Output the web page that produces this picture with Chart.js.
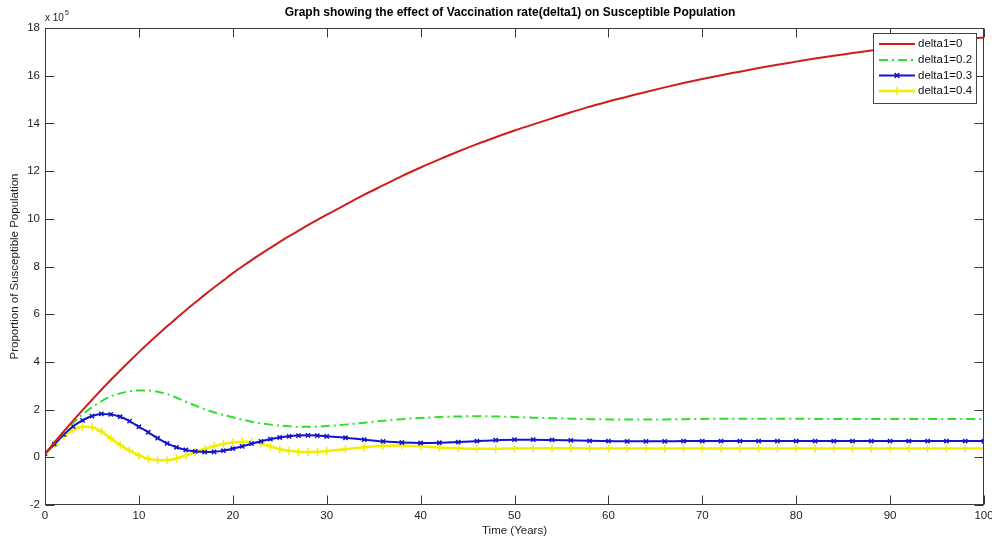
<!DOCTYPE html>
<html>
<head>
<meta charset="utf-8">
<title>Susceptible Population</title>
<script src="https://cdn.jsdelivr.net/npm/chart.js@4.4.1/dist/chart.umd.min.js"></script>
<style>
  html, body { margin: 0; padding: 0; background: #fff; }
</style>
</head>
<body>
<canvas id="myChart" width="992" height="541"></canvas>
<script>
// Time axis (years) - dense for the first 30 years, then every 2 years
const time = [
  0, 1, 2, 3, 4, 5, 6, 7, 8, 9, 10, 11, 12, 13, 14, 15, 16, 17, 18, 19, 20,
  21, 22, 23, 24, 25, 26, 27, 28, 29, 30,
  32, 34, 36, 38, 40, 42, 44, 46, 48, 50, 52, 54, 56, 58, 60, 62, 64, 66, 68, 70,
  72, 74, 76, 78, 80, 82, 84, 86, 88, 90, 92, 94, 96, 98, 100
];

// Susceptible population (x 10^5) for each vaccination rate
const delta0 = [
  0.15, 0.62, 1.09, 1.54, 1.98, 2.41, 2.83, 3.24, 3.64, 4.03, 4.41, 4.78, 5.14, 5.49, 5.83, 6.17, 6.49, 6.81, 7.12, 7.42, 7.72,
  8.0, 8.27, 8.53, 8.78, 9.03, 9.27, 9.5, 9.73, 9.95, 10.17,
  10.59, 11.01, 11.4, 11.79, 12.15, 12.49, 12.82, 13.13, 13.42, 13.7, 13.96, 14.21, 14.47, 14.7, 14.92, 15.12, 15.32, 15.51, 15.69, 15.86,
  16.02, 16.17, 16.32, 16.46, 16.59, 16.72, 16.84, 16.95, 17.06, 17.16, 17.26, 17.35, 17.44, 17.53, 17.6
];
const delta02 = [
  0.15, 0.6, 1.05, 1.45, 1.8, 2.1, 2.35, 2.55, 2.68, 2.77, 2.8, 2.8, 2.75, 2.65, 2.5, 2.33, 2.17, 2.02, 1.89, 1.78, 1.68,
  1.58, 1.49, 1.42, 1.37, 1.33, 1.3, 1.28, 1.28, 1.29, 1.31,
  1.37, 1.45, 1.53, 1.6, 1.65, 1.69, 1.71, 1.72, 1.71, 1.69, 1.66, 1.64, 1.62, 1.6, 1.59, 1.58, 1.58, 1.59, 1.6, 1.61,
  1.62, 1.62, 1.62, 1.62, 1.62, 1.61, 1.61, 1.61, 1.61, 1.61, 1.61, 1.61, 1.61, 1.61, 1.61
];
const delta03 = [
  0.15, 0.55, 0.95, 1.3, 1.55, 1.73, 1.82, 1.8, 1.7, 1.52, 1.28, 1.05, 0.8, 0.58, 0.42, 0.31, 0.25, 0.22, 0.23, 0.28, 0.36,
  0.46, 0.57, 0.67, 0.76, 0.83, 0.88, 0.91, 0.92, 0.91, 0.88,
  0.82, 0.74, 0.67, 0.62, 0.6, 0.61, 0.64, 0.68, 0.72, 0.74, 0.74, 0.73, 0.71, 0.69, 0.68, 0.67, 0.67, 0.67, 0.68, 0.68,
  0.68, 0.68, 0.68, 0.68, 0.68, 0.68, 0.68, 0.68, 0.68, 0.68, 0.68, 0.68, 0.68, 0.68, 0.68
];
const delta04 = [
  0.15, 0.55, 0.9, 1.15, 1.28, 1.26, 1.08, 0.8, 0.52, 0.28, 0.08, -0.06, -0.12, -0.12, -0.05, 0.08, 0.22, 0.35, 0.47, 0.56, 0.62,
  0.65, 0.64, 0.58, 0.45, 0.34, 0.27, 0.23, 0.22, 0.23, 0.26,
  0.34, 0.42, 0.48, 0.49, 0.46, 0.41, 0.38, 0.36, 0.36, 0.37, 0.38, 0.38, 0.38, 0.37, 0.37, 0.37, 0.37, 0.37, 0.37, 0.37,
  0.37, 0.37, 0.37, 0.37, 0.37, 0.37, 0.37, 0.37, 0.37, 0.37, 0.37, 0.37, 0.37, 0.37, 0.37
];

const seriesLabels = ["delta1=0", "delta1=0.2", "delta1=0.3", "delta1=0.4"];
const xTicks = [0, 10, 20, 30, 40, 50, 60, 70, 80, 90, 100];
const yTicks = [-2, 0, 2, 4, 6, 8, 10, 12, 14, 16, 18];

const FONT = "'Liberation Sans', Arial, sans-serif";

const toPoints = (vals) => vals.map((v, i) => ({ x: time[i], y: v }));

// box, inward ticks, title, exponent and legend drawn like a matlab figure
const matlabFrame = {
  id: "matlabFrame",
  afterDatasetsDraw(chart) {
    const { ctx, chartArea: a, scales } = chart;
    const L = Math.round(a.left) + 0.5;
    const R = Math.round(a.right) - 0.5;
    const T = Math.round(a.top) + 0.5;
    const B = Math.round(a.bottom) - 0.5;
    const tl = 9;

    ctx.save();
    ctx.strokeStyle = "#3a3a3a";
    ctx.lineWidth = 1;
    ctx.strokeRect(L, T, R - L, B - T);
    ctx.beginPath();
    xTicks.forEach((v) => {
      const px = Math.round(scales.x.getPixelForValue(v)) + 0.5;
      ctx.moveTo(px, B); ctx.lineTo(px, B - tl);
      ctx.moveTo(px, T); ctx.lineTo(px, T + tl);
    });
    yTicks.forEach((v) => {
      const py = Math.round(scales.y.getPixelForValue(v)) + 0.5;
      ctx.moveTo(L, py); ctx.lineTo(L + tl, py);
      ctx.moveTo(R, py); ctx.lineTo(R - tl, py);
    });
    ctx.stroke();

    // title
    ctx.fillStyle = "#000";
    ctx.font = "bold 12px " + FONT;
    ctx.textAlign = "center";
    ctx.textBaseline = "middle";
    ctx.fillText("Graph showing the effect of Vaccination rate(delta1) on Susceptible Population", 510, 13);

    // exponent of the y axis
    ctx.textAlign = "left";
    ctx.textBaseline = "alphabetic";
    ctx.font = "10px " + FONT;
    ctx.fillStyle = "#222";
    ctx.fillText("x 10", 45, 21);
    ctx.font = "7px " + FONT;
    ctx.fillText("5", 65, 15);

    // legend
    const bx = 873, by = 33, bw = 104, bh = 71;
    ctx.fillStyle = "#fff";
    ctx.fillRect(bx, by, bw, bh);
    ctx.strokeStyle = "#444";
    ctx.strokeRect(bx + 0.5, by + 0.5, bw - 1, bh - 1);
    const rowY = [44, 60, 75.5, 91];
    chart.data.datasets.forEach((ds, i) => {
      const y = rowY[i];
      ctx.save();
      ctx.strokeStyle = ds.borderColor;
      ctx.lineWidth = ds.borderWidth;
      ctx.setLineDash(ds.borderDash || []);
      ctx.beginPath();
      ctx.moveTo(879, y);
      ctx.lineTo(915, y);
      ctx.stroke();
      ctx.setLineDash([]);
      if (ds.pointRadius > 0) {
        const mx = 897, r = ds.pointRadius;
        ctx.lineWidth = 1.5;
        ctx.beginPath();
        if (ds.pointStyle === "crossRot") {
          ctx.moveTo(mx - r * 0.8, y - r * 0.8); ctx.lineTo(mx + r * 0.8, y + r * 0.8);
          ctx.moveTo(mx - r * 0.8, y + r * 0.8); ctx.lineTo(mx + r * 0.8, y - r * 0.8);
        } else {
          ctx.moveTo(mx - r, y); ctx.lineTo(mx + r, y);
          ctx.moveTo(mx, y - r); ctx.lineTo(mx, y + r);
        }
        ctx.stroke();
      }
      ctx.restore();
      ctx.fillStyle = "#111";
      ctx.font = "11.5px " + FONT;
      ctx.textBaseline = "middle";
      ctx.fillText(ds.label, 918, y);
    });
    ctx.restore();
  },
};

const ctx = document.getElementById("myChart");

new Chart(ctx, {
  type: "line",
  data: {
    datasets: [
      {
        label: seriesLabels[0],
        data: toPoints(delta0),
        borderColor: "#d01c1c",
        borderWidth: 2,
        pointRadius: 0,
      },
      {
        label: seriesLabels[1],
        data: toPoints(delta02),
        borderColor: "#2ee02e",
        borderWidth: 2,
        borderDash: [9, 4, 2, 4],
        pointRadius: 0,
      },
      {
        label: seriesLabels[2],
        data: toPoints(delta03),
        borderColor: "#1414cc",
        borderWidth: 2,
        pointStyle: "crossRot",
        pointRadius: 3,
        pointBorderWidth: 1.5,
        pointBorderColor: "#1414cc",
      },
      {
        label: seriesLabels[3],
        data: toPoints(delta04),
        borderColor: "#f2ee00",
        borderWidth: 2.5,
        pointStyle: "cross",
        pointRadius: 4,
        pointBorderWidth: 1.5,
        pointBorderColor: "#f2ee00",
      },
    ],
  },
  options: {
    responsive: false,
    animation: false,
    cubicInterpolationMode: "monotone",
    layout: { padding: { top: 28, right: 8, left: 0, bottom: 0 } },
    plugins: {
      legend: { display: false },
      tooltip: { enabled: false },
    },
    scales: {
      x: {
        type: "linear",
        min: 0,
        max: 100,
        afterBuildTicks: (s) => { s.ticks = xTicks.map((v) => ({ value: v })); },
        afterFit: (s) => { s.height = 36; s.paddingLeft = 0; s.paddingRight = 0; },
        grid: { display: false, drawTicks: false },
        border: { display: false },
        ticks: { autoSkip: false, maxRotation: 0, padding: 4, color: "#222", font: { family: FONT, size: 11.5 } },
        title: {
          display: true,
          text: "Time (Years)",
          color: "#222",
          font: { family: FONT, size: 11.5 },
          padding: { top: 0, bottom: 3 },
        },
      },
      y: {
        min: -2,
        max: 18,
        afterBuildTicks: (s) => { s.ticks = yTicks.map((v) => ({ value: v })); },
        afterFit: (s) => { s.width = 45; s.paddingTop = 0; s.paddingBottom = 0; },
        grid: { display: false, drawTicks: false },
        border: { display: false },
        ticks: { autoSkip: false, padding: 5, color: "#222", font: { family: FONT, size: 11.5 } },
        title: {
          display: true,
          text: "Proportion of Susceptible Population",
          color: "#222",
          font: { family: FONT, size: 11.5 },
          padding: { top: 8, bottom: 0 },
        },
      },
    },
  },
  plugins: [matlabFrame],
});
</script>
</body>
</html>
